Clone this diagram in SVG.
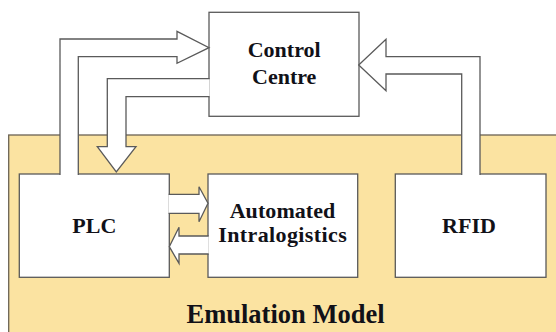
<svg xmlns="http://www.w3.org/2000/svg" width="556" height="332" viewBox="0 0 556 332">
  <rect width="556" height="332" fill="#ffffff"/>

  <!-- Emulation model region (background panel) -->
  <g id="emulation-model" font-family="Liberation Serif, Times New Roman, serif" font-weight="bold" text-anchor="middle">
    <rect x="8.7" y="135" width="560" height="220" fill="#fbe3a1" stroke="#6b6354" stroke-width="1.3"/>
    <text x="285.5" y="323" font-size="26.5" fill="#111118">Emulation Model</text>
  </g>

  <!-- Shared look of the white node boxes and their labels -->
  <g id="nodes" fill="#ffffff" stroke="#5a5a5a" stroke-width="1.3" font-family="Liberation Serif, Times New Roman, serif" font-weight="bold" font-size="22" text-anchor="middle">
    <g id="control-centre">
      <rect x="209" y="12.3" width="150" height="104"/>
      <text x="284.2" y="57.3" fill="#111118" stroke="none">Control</text>
      <text x="284.2" y="84" fill="#111118" stroke="none">Centre</text>
    </g>

    <g id="plc">
      <rect x="19.3" y="174" width="150" height="103.3"/>
      <text x="94.3" y="233.3" fill="#111118" stroke="none">PLC</text>
    </g>

    <g id="automated-intralogistics">
      <rect x="208" y="174" width="149.7" height="103.3"/>
      <text x="282.5" y="218.3" fill="#111118" stroke="none" textLength="105.7" lengthAdjust="spacing">Automated</text>
      <text x="282.5" y="241.7" fill="#111118" stroke="none" textLength="128.4" lengthAdjust="spacing">Intralogistics</text>
    </g>

    <g id="rfid">
      <rect x="395.3" y="174" width="150.7" height="103.3"/>
      <text x="469" y="233.3" fill="#111118" stroke="none">RFID</text>
    </g>
  </g>

  <!-- Block arrows; each path is left open where it joins a box so its white fill breaks that border -->
  <g id="connectors" fill="#ffffff" stroke="#5a5a5a" stroke-width="1.3" stroke-linejoin="miter">
    <!-- PLC to Control Centre -->
    <path d="M78.3,175 L78.3,56.7 L177,56.7 L177,63.3 L209,47.7 L177,31.3 L177,39 L60,39 L60,175"/>
    <!-- Control Centre to PLC -->
    <path d="M209.6,78.7 L107.3,78.7 L107.3,146.7 L97.3,146.7 L116.3,172 L136,146.7 L126,146.7 L126,96.7 L209.6,96.7"/>
    <!-- RFID to Control Centre -->
    <path d="M461.7,175 L461.7,74 L386,74 L386,90.7 L358.7,65 L386,39.3 L386,56.7 L480,56.7 L480,175"/>
    <!-- PLC to Automated Intralogistics -->
    <path d="M168.6,194.3 L199,194.3 L199,186.7 L208,203.3 L199,221.7 L199,213.3 L168.6,213.3"/>
    <!-- Automated Intralogistics to PLC -->
    <path d="M208.7,236 L179,236 L179,227.3 L169.3,246.7 L179,263.3 L179,254 L208.7,254"/>
  </g>
</svg>
